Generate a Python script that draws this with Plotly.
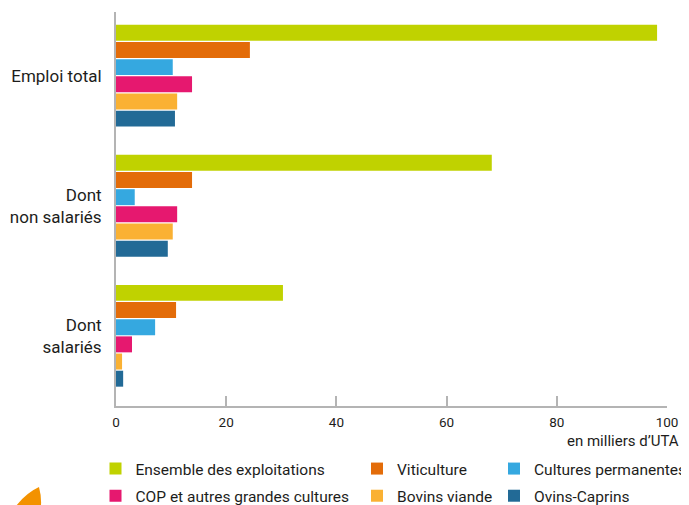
import plotly.graph_objects as go

categories = ["Emploi total", "Dont<br>non salariés", "Dont<br>salariés"]
series_names = ["Ensemble des exploitations", "Viticulture", "Cultures permanentes",
                "COP et autres grandes cultures", "Bovins viande", "Ovins-Caprins"]
ensemble = [98.2, 68.2, 30.3]
viticulture = [24.3, 13.8, 10.9]
cultures_perm = [10.3, 3.4, 7.1]
cop = [13.8, 11.1, 2.9]
bovins = [11.1, 10.3, 1.1]
ovins = [10.7, 9.4, 1.3]
x_ticks = [0, 20, 40, 60, 80, 100]
unit_label = "en milliers d\u2019UTA"

series_values = [ensemble, viticulture, cultures_perm, cop, bovins, ovins]
colors = ["#C0D200", "#E36C09", "#35A8E0", "#E6186F", "#FAB133", "#226A96"]
legend_ids = ["legend", "legend2", "legend3", "legend", "legend2", "legend3"]

# page body has an 8px default margin: work in reference pixels and shift
OFF = 8
W, H = 689 - OFF, 505 - OFF
PL, PR, PT, PB = 116, 667, 12, 406          # plot area in reference pixels
ML, MR, MT, MB = PL - OFF, (689 - OFF) - (PR - OFF), PT - OFF, H - (PB - OFF)
PW, PH = W - ML - MR, H - MT - MB


def px(x):   # reference px -> paper x
    return (x - OFF - ML) / PW


def py(y):   # reference px -> paper y
    return (H - MB - (y - OFF)) / PH


def cx(x):   # reference px -> container x
    return (x - OFF) / W


def cy(y):   # reference px -> container y
    return 1 - (y - OFF) / H


FONT = "Roboto, 'DejaVu Sans Condensed', sans-serif"
TXT = "#1d1d1b"

fig = go.Figure()
for i, (name, vals) in enumerate(zip(series_names, series_values)):
    fig.add_trace(go.Bar(
        y=categories, x=vals, name=name, orientation="h",
        marker=dict(color=colors[i], line=dict(width=0)),
        legend=legend_ids[i], legendgroup=name,
    ))

legend_common = dict(orientation="v", xanchor="left", yanchor="middle",
                     xref="container", yref="container",
                     font=dict(family=FONT, size=15.5, color=TXT),
                     bgcolor="rgba(0,0,0,0)", tracegroupgap=4, itemwidth=30)
ly = cy(482.5)
fig.update_layout(
    width=W, height=H,
    margin=dict(l=ML, r=MR, t=MT, b=MB, autoexpand=False),
    paper_bgcolor="white", plot_bgcolor="white",
    barmode="group", bargap=0.208, bargroupgap=0.07,
    font=dict(family=FONT, size=15, color=TXT),
    xaxis=dict(range=[0, 100], tickvals=x_ticks, ticks="inside", ticklen=10,
               tickcolor="#b4b4b4", tickwidth=1.5, showgrid=False, zeroline=False,
               showline=True, linecolor="#b4b4b4", linewidth=1.5,
               ticklabelstandoff=3,
               tickfont=dict(family=FONT, size=13.5, color=TXT), fixedrange=True),
    yaxis=dict(range=[2.54, -0.49], showgrid=False, zeroline=False,
               showline=True, linecolor="#b4b4b4", linewidth=2,
               ticks="outside", ticklen=9, tickcolor="rgba(0,0,0,0)",
               tickfont=dict(family=FONT, size=17, color=TXT)),
    legend=dict(x=cx(95.5), y=ly, **legend_common),
    legend2=dict(x=cx(357), y=ly, **legend_common),
    legend3=dict(x=cx(494), y=ly, **legend_common),
    showlegend=True,
)

fig.add_annotation(text=unit_label, xref="paper", yref="paper",
                   x=px(681), y=py(441), xanchor="right", yanchor="middle",
                   showarrow=False, font=dict(family=FONT, size=15, color=TXT))

# decorative orange logo fragment at bottom-left
path = "M {x0},{y0} Q {x1},{y1} {x2},{y2} L {x3},{y3} Q {x4},{y4} {x0},{y0} Z".format(
    x0=px(39), y0=py(487), x1=px(26), y1=py(493), x2=px(16), y2=py(506),
    x3=px(41), y3=py(506), x4=px(41.5), y4=py(496))
fig.add_shape(type="path", path=path, xref="paper", yref="paper",
              fillcolor="#F39200", line=dict(width=0), layer="above")

fig.write_html("out.html")
